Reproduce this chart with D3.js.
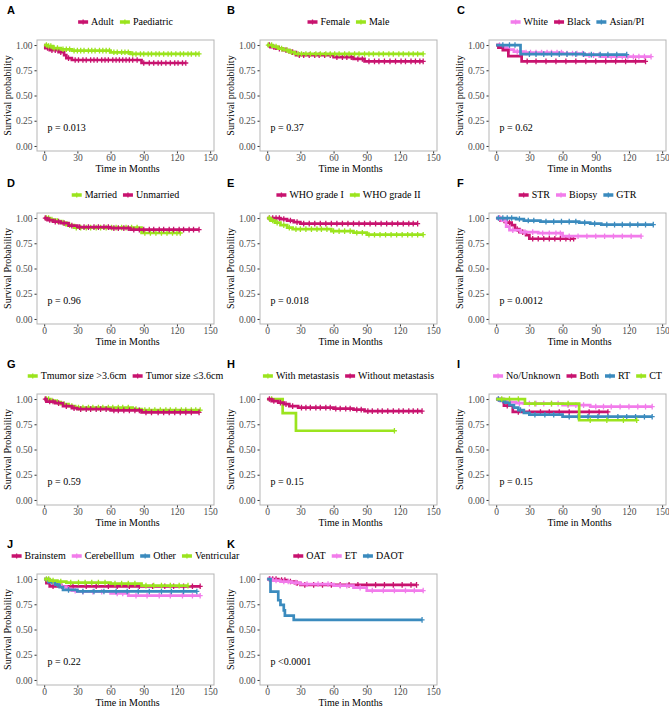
<!DOCTYPE html>
<html><head><meta charset="utf-8">
<script src="https://cdn.jsdelivr.net/npm/d3@7"></script>
<style>body{margin:0;background:#fff}</style>
</head><body>
<svg id="chart" width="669" height="710"></svg>
<script>
// ---------- data ----------
const panelLetters = ["A","B","C","D","E","F","G","H","I","J","K"];
const legendLabels = [
  ["Adult","Paediatric"],
  ["Female","Male"],
  ["White","Black","Asian/PI"],
  ["Married","Unmarried"],
  ["WHO grade I","WHO grade II"],
  ["STR","Biopsy","GTR"],
  ["Tmumor size >3.6cm","Tumor size \u22643.6cm"],
  ["With metastasis","Without metastasis"],
  ["No/Unknown","Both","RT","CT"],
  ["Brainstem","Cerebelllum","Other","Ventricular"],
  ["OAT","ET","DAOT"]
];
const pTexts = ["p = 0.013","p = 0.37","p = 0.62","p = 0.96","p = 0.018","p = 0.0012",
                "p = 0.59","p = 0.15","p = 0.15","p = 0.22","p <0.0001"];
const yTitles = ["Survival probability","Survival probability","Survival probability",
  "Survival Probability","Survival Probability","Survival Probability","Survival Probability",
  "Survival Probability","Survival Probability","Survival Probability","Survival Probability"];
const xTitle = "Time in Months";
const xTicks = [0,30,60,90,120,150];
const yTicks = [0,0.25,0.5,0.75,1];

// step points [month, survival] per series
const stepsA = [
  [[0,1],[1,0.97],[5,0.95],[13,0.93],[18,0.9],[20,0.87],[25,0.852],[88,0.822],[128,0.822]],
  [[0,1],[3,0.99],[8,0.97],[15,0.958],[25,0.945],[60,0.928],[78,0.912],[140,0.912]]
];
const censA = [
  [3,7,10,15,22,28,31,35,38,42,45,48,52,55,58,62,65,68,71,74,77,80,84,90,95,99,103,106,110,114,118,121,125,128],
  [2,4,6,9,12,17,20,23,27,30,33,36,40,43,46,50,53,56,59,63,66,70,73,76,80,83,87,90,94,97,101,104,108,112,115,119,123,126,130,133,137,140]
];
const stepsB = [
  [[0,1],[3,0.98],[8,0.965],[14,0.95],[20,0.93],[26,0.9],[60,0.88],[78,0.862],[88,0.838],[141,0.838]],
  [[0,1],[5,0.985],[10,0.965],[15,0.95],[20,0.93],[25,0.912],[141,0.912]]
];
const censB = [
  [2,6,11,17,23,29,33,38,43,47,52,57,63,68,72,76,82,86,92,97,101,106,111,116,121,125,130,134,138,141],
  [1,4,8,13,18,22,28,31,35,39,44,48,53,57,61,65,70,74,79,83,88,92,96,101,105,110,114,119,123,128,132,136,141]
];
const stepsC = [
  [[0,1],[4,0.975],[10,0.955],[16,0.935],[25,0.925],[60,0.915],[80,0.9],[95,0.885],[140,0.885]],
  [[0,1],[2,0.975],[6,0.95],[11,0.89],[23,0.838],[135,0.838]],
  [[0,1],[22,0.91],[80,0.905],[118,0.905]]
];
const censC = [
  [3,7,12,19,27,31,36,41,46,50,55,59,64,69,73,78,84,88,93,99,104,109,114,119,124,129,134,140],
  [28,36,45,54,63,72,81,90,99,108,117,126,135],
  [6,12,17,30,36,43,50,57,64,72,79,86,94,101,109,118]
];
const stepsD = [
  [[0,1],[5,0.985],[10,0.97],[15,0.955],[20,0.93],[27,0.905],[88,0.852],[123,0.852]],
  [[0,1],[3,0.98],[8,0.965],[15,0.95],[22,0.925],[30,0.91],[60,0.9],[78,0.885],[140,0.885]]
];
const censD = [
  [2,4,7,12,17,23,29,33,38,42,47,51,56,61,65,70,74,79,84,91,96,101,106,111,116,120,123],
  [1,5,10,13,18,25,32,36,40,45,49,54,58,63,67,72,76,81,86,90,95,99,104,108,113,117,122,126,131,135,140]
];
const stepsE = [
  [[0,1],[12,0.99],[18,0.975],[24,0.96],[30,0.945],[136,0.945]],
  [[0,1],[3,0.975],[7,0.955],[12,0.93],[18,0.905],[23,0.89],[58,0.87],[78,0.855],[90,0.835],[141,0.835]]
];
const censE = [
  [2,5,8,11,15,21,27,33,38,43,48,53,58,63,68,73,78,83,88,93,98,103,108,113,118,123,128,132,136],
  [2,5,9,15,20,26,30,35,40,45,49,54,60,65,70,75,81,86,92,97,102,107,112,117,122,127,131,136,141]
];
const stepsF = [
  [[0,1],[4,0.975],[9,0.955],[14,0.93],[17,0.89],[21,0.86],[27,0.83],[30,0.795],[70,0.795]],
  [[0,1],[5,0.975],[9,0.915],[12,0.88],[22,0.86],[38,0.85],[60,0.82],[131,0.82]],
  [[0,1],[18,0.99],[25,0.975],[40,0.965],[75,0.955],[85,0.945],[95,0.935],[142,0.935]]
];
const censF = [
  [3,7,12,19,24,33,38,43,48,53,58,63,67,70],
  [3,15,26,33,42,48,54,58,66,74,82,90,98,106,114,122,131],
  [2,6,10,14,21,29,34,45,52,59,66,72,80,89,100,107,114,121,128,135,142]
];
const stepsG = [
  [[0,1],[5,0.985],[10,0.97],[15,0.95],[22,0.93],[28,0.915],[80,0.9],[88,0.89],[141,0.89]],
  [[0,1],[2,0.975],[10,0.96],[17,0.93],[25,0.91],[30,0.9],[60,0.888],[88,0.868],[140,0.868]]
];
const censG = [
  [2,4,7,12,18,25,31,35,40,44,49,53,58,62,67,71,76,83,91,95,100,105,110,114,119,124,128,133,137,141],
  [1,5,8,13,20,27,33,38,42,47,51,56,63,67,72,77,82,86,92,97,103,108,113,118,123,128,133,140]
];
const stepsH = [
  [[0,1],[14,0.86],[26,0.686],[115,0.686]],
  [[0,1],[4,0.98],[10,0.965],[15,0.95],[20,0.93],[28,0.915],[60,0.905],[78,0.895],[88,0.88],[140,0.88]]
];
const censH = [
  [4,115],
  [2,6,12,17,23,31,35,39,44,48,53,57,62,66,71,75,81,85,91,95,100,104,109,114,119,123,128,132,136,140]
];
const stepsI = [
  [[0,1],[4,0.98],[10,0.97],[18,0.96],[25,0.955],[60,0.94],[85,0.925],[141,0.925]],
  [[0,1],[7,0.935],[15,0.872],[101,0.872]],
  [[0,1],[4,0.985],[8,0.965],[12,0.94],[16,0.915],[20,0.89],[25,0.862],[30,0.845],[60,0.825],[141,0.825]],
  [[0,1],[26,0.955],[75,0.79],[127,0.79]]
];
const censI = [
  [2,6,13,21,30,36,43,50,56,65,72,79,90,97,104,112,120,128,135,141],
  [10,20,30,40,48,57,66,75,84,93,101],
  [2,6,22,35,44,52,66,74,83,92,101,110,118,126,134,141],
  [5,12,20,35,50,65,85,100,115,127]
];
const stepsJ = [
  [[0,1],[2,0.96],[5,0.928],[141,0.928]],
  [[0,1],[4,0.975],[10,0.95],[15,0.925],[20,0.9],[25,0.885],[30,0.874],[60,0.858],[76,0.835],[141,0.835]],
  [[0,1],[4,0.97],[10,0.945],[14,0.92],[17,0.893],[30,0.877],[138,0.877]],
  [[0,1],[5,0.985],[12,0.975],[20,0.965],[60,0.955],[88,0.935],[130,0.935]]
];
const censJ = [
  [8,16,26,38,47,58,66,77,86,98,109,117,126,134,141],
  [6,12,22,28,35,44,52,66,71,83,93,104,114,125,134,141],
  [7,12,22,35,45,54,65,75,85,95,106,115,126,138],
  [2,4,8,15,24,31,37,43,49,55,64,70,76,82,92,99,106,114,122,130]
];
const stepsK = [
  [[0,1],[10,0.99],[18,0.975],[25,0.96],[30,0.942],[135,0.942]],
  [[0,1],[5,0.985],[12,0.975],[22,0.965],[30,0.95],[60,0.935],[78,0.915],[90,0.886],[141,0.886]],
  [[0,1],[3,0.875],[10,0.79],[12,0.745],[15,0.69],[16,0.637],[24,0.595],[140,0.595]]
];
const censK = [
  [2,5,8,13,16,21,27,34,42,50,58,66,74,82,90,98,106,114,122,130,135],
  [3,8,15,19,26,36,46,55,66,72,84,95,105,115,125,133,141],
  [140]
];
const allSteps = [stepsA,stepsB,stepsC,stepsD,stepsE,stepsF,stepsG,stepsH,stepsI,stepsJ,stepsK];
const allCens = [censA,censB,censC,censD,censE,censF,censG,censH,censI,censJ,censK];

// ---------- styles ----------
const crimson = "#C8136F", lime = "#9BE41E", pink = "#F27CEB", blue = "#3B8BBE";
const panelColors = [
  [crimson,lime],[crimson,lime],[pink,crimson,blue],[lime,crimson],[crimson,lime],
  [crimson,pink,blue],[lime,crimson],[lime,crimson],[pink,crimson,blue,lime],
  [crimson,pink,blue,lime],[crimson,pink,blue]
];
const colLeft = [37, 260, 489];
const rowTop = [40, 213, 394, 574];
const boxW = 177, boxH = 111;
const serif = "'Liberation Serif','Times New Roman',serif";
const sans = "'Liberation Sans',Arial,sans-serif";

const svg = d3.select("#chart");

function survAt(steps, t) {
  let s = steps[0][1];
  for (const p of steps) { if (p[0] <= t) s = p[1]; }
  return s;
}

panelLetters.forEach((letter, i) => {
  const col = i % 3, row = Math.floor(i / 3);
  const x0 = colLeft[col], y0 = rowTop[row];
  const g = svg.append("g").attr("transform", `translate(${x0},${y0})`);
  const x = d3.scaleLinear().domain([-6.5, 153.5]).range([0, boxW]);
  const y = d3.scaleLinear().domain([-0.05, 1.05]).range([boxH, 0]);

  // panel letter
  svg.append("text").attr("x", [7,227,457][col]).attr("y", y0 - 26)
    .attr("font-family", sans).attr("font-weight", "bold").attr("font-size", 11)
    .text(letter);

  // axes
  const yAxis = g.append("g").call(d3.axisLeft(y).tickValues(yTicks).tickFormat(d3.format(".2f")).tickSize(2.5).tickPadding(2));
  const xAxis = g.append("g").attr("transform", `translate(0,${boxH})`)
    .call(d3.axisBottom(x).tickValues(xTicks).tickSize(2.5).tickPadding(0.5));
  [yAxis, xAxis].forEach(a => {
    a.select(".domain").remove();
    a.selectAll("line").attr("stroke", "#333");
    a.selectAll("text").attr("font-family", serif).attr("font-size", 9.5).attr("fill", "#4d4d4d");
  });

  // box
  g.append("rect").attr("width", boxW).attr("height", boxH)
    .attr("fill", "none").attr("stroke", "#b5b5b5").attr("stroke-width", 1);

  // titles
  g.append("text").attr("x", boxW / 2 + 2).attr("y", boxH + 21)
    .attr("text-anchor", "middle").attr("font-family", serif).attr("font-size", 10)
    .text(xTitle);
  g.append("text").attr("transform", `translate(-26,${boxH / 2}) rotate(-90)`)
    .attr("text-anchor", "middle").attr("font-family", serif).attr("font-size", 10)
    .text(yTitles[i]);

  // curves
  const line = d3.line().x(d => x(d[0])).y(d => y(d[1])).curve(d3.curveStepAfter);
  allSteps[i].forEach((steps, k) => {
    const c = panelColors[i][k];
    g.append("path").attr("d", line(steps)).attr("fill", "none")
      .attr("stroke", c).attr("stroke-width", 2.7);
    g.selectAll(null).data(allCens[i][k]).enter().append("path")
      .attr("transform", t => `translate(${x(t)},${y(survAt(steps, t))})`)
      .attr("d", "M-2.5,0H2.5M0,-2.8V2.8")
      .attr("stroke", c).attr("stroke-width", 1.3);
  });

  // p value
  g.append("text").attr("x", x(3)).attr("y", y(0.18) + 3.5)
    .attr("font-family", serif).attr("font-size", 10).text(pTexts[i]);

  // legend
  const lg = svg.append("g");
  let cx = 0;
  legendLabels[i].forEach((lab, k) => {
    const c = panelColors[i][k];
    const item = lg.append("g").attr("transform", `translate(${cx},0)`);
    item.append("line").attr("x1", 0).attr("x2", 10).attr("y1", 0).attr("y2", 0)
      .attr("stroke", c).attr("stroke-width", 3.5);
    item.append("path").attr("d", "M2.5,0H7.5M5,-2.5V2.5").attr("stroke", c).attr("stroke-width", 1.3);
    const t = item.append("text").attr("x", 13).attr("y", 3.3)
      .attr("font-family", serif).attr("font-size", 10).text(lab);
    cx += 13 + t.node().getComputedTextLength() + 6;
  });
  const lw = cx - 6;
  lg.attr("transform", `translate(${x0 + boxW / 2 - lw / 2},${y0 - 18})`);
});
</script>
</body></html>
